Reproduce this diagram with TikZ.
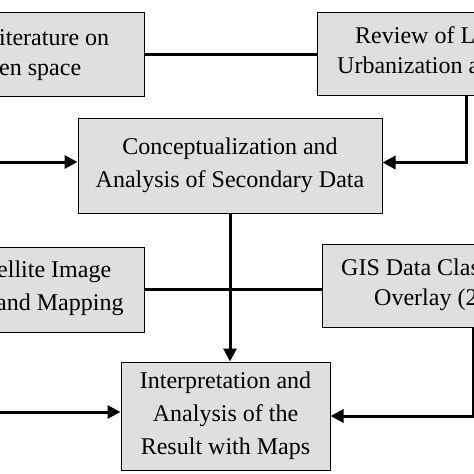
\documentclass[tikz,border=0pt]{standalone}
\usepackage{fontspec}
\setmainfont{Liberation Serif}
\usetikzlibrary{arrows.meta}
\tikzset{
  box/.style={rectangle,draw=black,line width=1pt,fill=gray!25,inner sep=0pt,align=center,font=\fontsize{24}{33}\selectfont},
  frag/.style={anchor=base west,inner sep=0pt,font=\fontsize{24}{33}\selectfont},
  link/.style={line width=3pt},
  flow/.style={line width=3pt,-{Triangle[length=13pt,width=13pt]}},
  elbow/.style={to path={|- (\tikztotarget)}}
}
\begin{document}
\begin{tikzpicture}[x=1pt,y=-1pt]
  \useasboundingbox (0,0) rectangle (474,474);
  \clip (0,0) rectangle (474,474);
  \node[box,minimum width=304pt,minimum height=84pt] (lit) at (-8,54) {};
  \node[box,minimum width=298pt,minimum height=83pt] (urb) at (466,53.5) {};
  \node[box,minimum width=304pt,minimum height=95pt] (concept) at (230,165.5) {Conceptualization and\\Analysis of Secondary Data};
  \node[box,minimum width=304pt,minimum height=85pt] (sat) at (-8,289.5) {};
  \node[box,minimum width=302pt,minimum height=83pt] (gis) at (473,285.5) {};
  \node[box,minimum width=209pt,minimum height=108pt] (interp) at (225.5,416) {Interpretation and\\Analysis of the\\Result with Maps};
  % visible parts of the cut boxes
  \node[frag] (lit1) at (-1,45) {iterature on};
  \node[frag] (lit2) at (-1,75) {en space};
  \node[frag] (urb1) at (355,43) {Review of L};
  \node[frag] (urb2) at (337,73) {Urbanization a};
  \node[frag] (sat1) at (-3,277) {ellite Image};
  \node[frag] (sat2) at (-4,310) {and Mapping};
  \node[frag] (gis1) at (341,275) {GIS Data Clas};
  \node[frag] (gis2) at (374,305) {Overlay (2};
  \coordinate (inA) at (-5,162);
  \coordinate (inB) at (-5,412);
  \path[link]
    (lit.east) edge (lit.east -| urb.west)
    (sat.east) edge (sat.east -| gis.west);
  \path[flow]
    (urb.south) edge[elbow] ([yshift=3pt]concept.east)
    (inA) edge (inA -| concept.west)
    (concept.south) edge (concept.south |- interp.north)
    (gis.south) edge[elbow] (interp.east)
    (inB) edge (inB -| interp.west);
\end{tikzpicture}
\end{document}
